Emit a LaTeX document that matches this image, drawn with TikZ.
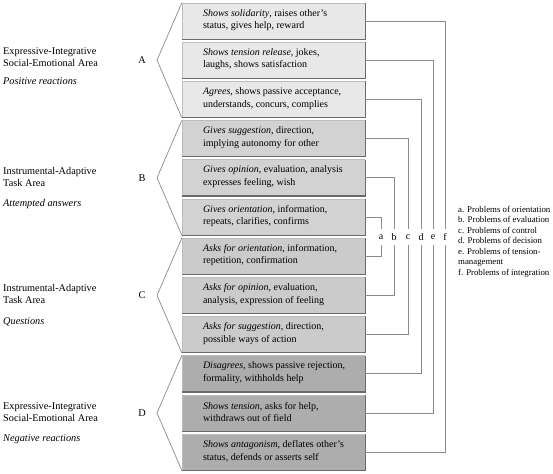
\documentclass[tikz,border=0pt]{standalone}
\usepackage{fontspec}
\setmainfont{Liberation Serif}
\definecolor{gA}{HTML}{E8E8E8}
\definecolor{gB}{HTML}{D2D2D2}
\definecolor{gC}{HTML}{CBCBCB}
\definecolor{gD}{HTML}{ADADAD}
\definecolor{lineg}{HTML}{8A8A8A}
\definecolor{edged}{HTML}{6A6A6A}
\definecolor{edgel}{HTML}{BDBDBD}
\begin{document}
\begin{tikzpicture}[x=1pt,y=-1pt,
  box/.style={draw=none, minimum width=183pt, minimum height=36pt, inner sep=0pt},
  btext/.style={anchor=west, align=left, inner sep=0pt, font=\fontsize{10}{12.5}\selectfont},
  lab/.style={anchor=west, align=left, inner sep=0pt, font=\fontsize{10.3}{12}\selectfont},
  labi/.style={anchor=west, inner sep=0pt, font=\fontsize{10.3}{12}\selectfont\itshape},
  glet/.style={inner sep=0pt, font=\fontsize{10.3}{12}\selectfont},
  lett/.style={inner sep=0pt, minimum height=15pt, font=\fontsize{10}{12}\selectfont},
  legend/.style={anchor=north west, align=left, inner sep=0pt, font=\fontsize{8.8}{10.5}\selectfont},
  conn/.style={draw=lineg, line width=0.7pt},
  brk/.style={draw=lineg, line width=0.7pt},
  edgeD/.style={draw=edged, line width=1.1pt},
  edgeL/.style={draw=edgel, line width=0.4pt}
]
\useasboundingbox (0,0) rectangle (553,473);

% boxes
\node[box, fill=gA] (b1) at (273.5,21) {};
\node[box, fill=gA] (b2) at (273.5,60.2) {};
\node[box, fill=gA] (b3) at (273.5,99.4) {};
\node[box, fill=gB] (b4) at (273.5,138.6) {};
\node[box, fill=gB] (b5) at (273.5,177.8) {};
\node[box, fill=gB] (b6) at (273.5,217) {};
\node[box, fill=gC] (b7) at (273.5,256.2) {};
\node[box, fill=gC] (b8) at (273.5,295.4) {};
\node[box, fill=gC] (b9) at (273.5,334.6) {};
\node[box, fill=gD] (b10) at (273.5,373.8) {};
\node[box, fill=gD] (b11) at (273.5,413) {};
\node[box, fill=gD] (b12) at (273.5,452.2) {};

\foreach \n in {b1,b2,b3,b4,b5,b6,b7,b8,b9,b10,b11,b12}{
  \draw[edgeL] (\n.south west) -- (\n.north west) -- (\n.north east);
  \draw[edgeD] (\n.north east) -- (\n.south east) -- (\n.south west);
}

% box texts
\node[btext] (t1) at ([xshift=21pt,yshift=1pt]b1.west) {\textit{Shows solidarity}, raises other’s\\status, gives help, reward};
\node[btext] (t2) at ([xshift=21pt,yshift=1pt]b2.west) {\textit{Shows tension release,} jokes,\\laughs, shows satisfaction};
\node[btext] (t3) at ([xshift=21pt,yshift=1pt]b3.west) {\textit{Agrees,} shows passive acceptance,\\understands, concurs, complies};
\node[btext] (t4) at ([xshift=21pt,yshift=1pt]b4.west) {\textit{Gives suggestion,} direction,\\implying autonomy for other};
\node[btext] (t5) at ([xshift=21pt,yshift=1pt]b5.west) {\textit{Gives opinion,} evaluation, analysis\\expresses feeling, wish};
\node[btext] (t6) at ([xshift=21pt,yshift=1pt]b6.west) {\textit{Gives orientation,} information,\\repeats, clarifies, confirms};
\node[btext] (t7) at ([xshift=21pt,yshift=1pt]b7.west) {\textit{Asks for orientation,} information,\\repetition, confirmation};
\node[btext] (t8) at ([xshift=21pt,yshift=1pt]b8.west) {\textit{Asks for opinion,} evaluation,\\analysis, expression of feeling};
\node[btext] (t9) at ([xshift=21pt,yshift=1pt]b9.west) {\textit{Asks for suggestion,} direction,\\possible ways of action};
\node[btext] (t10) at ([xshift=21pt,yshift=1pt]b10.west) {\textit{Disagrees,} shows passive rejection,\\formality, withholds help};
\node[btext] (t11) at ([xshift=21pt,yshift=1pt]b11.west) {\textit{Shows tension,} asks for help,\\withdraws out of field};
\node[btext] (t12) at ([xshift=21pt,yshift=1pt]b12.west) {\textit{Shows antagonism,} deflates other’s\\status, defends or asserts self};

% brackets
\coordinate (pA) at (157,60.2);
\coordinate (pB) at (157,177.8);
\coordinate (pC) at (157,295.4);
\coordinate (pD) at (157,413);
\draw[brk] (b1.north west) -- (pA) -- (b3.south west);
\draw[brk] (b4.north west) -- (pB) -- (b6.south west);
\draw[brk] (b7.north west) -- (pC) -- (b9.south west);
\draw[brk] (b10.north west) -- (pD) -- (b12.south west);

% group letters
\node[glet] (gA) at (142,60.2) {A};
\node[glet] (gB) at (142,177.8) {B};
\node[glet] (gC) at (142,295.4) {C};
\node[glet] (gD) at (142,413) {D};

% group labels
\node[lab] (lA) at (3,57.2) {Expressive-Integrative\\Social-Emotional Area};
\node[labi] (lAi) at (3,81.5) {Positive reactions};
\node[lab] (lB) at (3,176.8) {Instrumental-Adaptive\\Task Area};
\node[labi] (lBi) at (3,204) {Attempted answers};
\node[lab] (lC) at (3,294.4) {Instrumental-Adaptive\\Task Area};
\node[labi] (lCi) at (3,321.5) {Questions};
\node[lab] (lD) at (3,412) {Expressive-Integrative\\Social-Emotional Area};
\node[labi] (lDi) at (3,439) {Negative reactions};

% column letters
\node[lett] (la) at (381,237) {a};
\node[lett] (lb) at (394,237) {b};
\node[lett] (lc) at (408,237) {c};
\node[lett] (ld) at (421,237) {d};
\node[lett] (le) at (433,237) {e};
\node[lett] (lf) at (445,237) {f};

% connectors
\draw[conn] (b6.east) -| (la.north);
\draw[conn] (b7.east) -| (la.south);
\draw[conn] (b5.east) -| (lb.north);
\draw[conn] (b8.east) -| (lb.south);
\draw[conn] (b4.east) -| (lc.north);
\draw[conn] (b9.east) -| (lc.south);
\draw[conn] (b3.east) -| (ld.north);
\draw[conn] (b10.east) -| (ld.south);
\draw[conn] (b2.east) -| (le.north);
\draw[conn] (b11.east) -| (le.south);
\draw[conn] (b1.east) -| (lf.north);
\draw[conn] (b12.east) -| (lf.south);

% legend
\node[legend] (leg) at (458,206) {a. Problems of orientation\\b. Problems of evaluation\\c. Problems of control\\d. Problems of decision\\e. Problems of tension-\\management\\f. Problems of integration};
\end{tikzpicture}
\end{document}
